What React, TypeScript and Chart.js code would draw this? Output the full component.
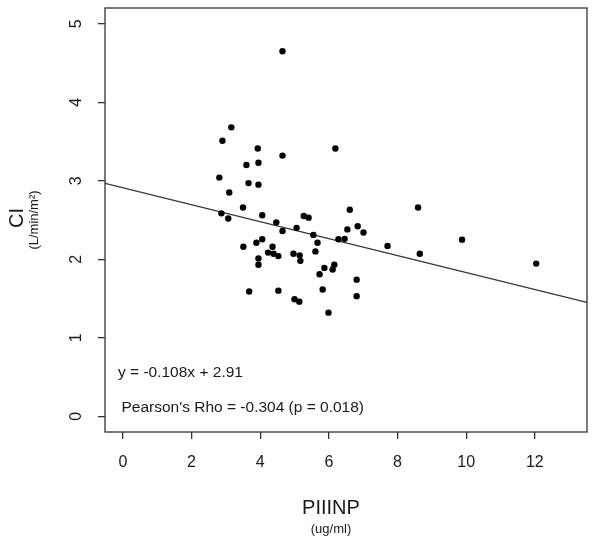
import React, { useEffect, useRef } from "react";
import { Chart, registerables } from "chart.js";

Chart.register(...registerables);

// PIIINP (ug/ml) values
const piiinp = [
  4.65, 3.16, 2.9, 3.93, 4.65, 3.6, 3.95, 2.81, 3.66, 3.95, 3.1, 6.19,
  3.5, 2.87, 3.07, 4.06, 4.47, 4.65, 5.27, 5.41, 5.06, 5.55, 6.61, 6.54,
  6.84, 7.01, 6.28, 6.46, 5.67, 5.61, 3.51, 3.89, 4.06, 4.36, 4.23, 4.39,
  4.53, 3.95, 3.95, 4.97, 5.15, 5.17, 6.16, 6.11, 5.87, 5.73, 6.81, 3.68,
  4.53, 5.82, 6.81, 5.0, 5.14, 5.99, 8.6, 7.71, 8.65, 9.88, 12.04,
];
// CI (L/min/m2) values
const ci = [
  4.65, 3.68, 3.51, 3.41, 3.32, 3.2, 3.23, 3.04, 2.97, 2.95, 2.85, 3.41,
  2.66, 2.585, 2.52, 2.56, 2.47, 2.36, 2.55, 2.53, 2.4, 2.31, 2.63, 2.38,
  2.42, 2.34, 2.255, 2.26, 2.21, 2.1, 2.16, 2.21, 2.255, 2.16, 2.085, 2.07,
  2.04, 2.01, 1.93, 2.07, 2.05, 1.98, 1.93, 1.87, 1.89, 1.81, 1.74, 1.59,
  1.6, 1.615, 1.53, 1.49, 1.46, 1.32, 2.66, 2.17, 2.07, 2.25, 1.945,
];

const xTicks = [0, 2, 4, 6, 8, 10, 12];
const yTicks = [0, 1, 2, 3, 4, 5];
const xRange = [-0.52, 13.52];
const yRange = [-0.2, 5.2];
const slope = -0.108;
const intercept = 2.91;

const xTitle = "PIIINP";
const xUnits = "(ug/ml)";
const yTitle = "CI";
const yUnits = "(L/min/m²)";
const eqText = "y = -0.108x + 2.91";
const rhoText = "Pearson's Rho = -0.304 (p = 0.018)";

const FONT = '"Liberation Sans", Arial, Helvetica, sans-serif';
const INK = "#1a1a1a";
const LINE = "#333333";

const overlay = {
  id: "overlay",
  afterDraw(chart: any) {
    const { ctx, chartArea: a, scales } = chart;
    const y = scales.y;
    ctx.save();
    // box
    ctx.strokeStyle = LINE;
    ctx.lineWidth = 1.3;
    ctx.strokeRect(a.left, a.top, a.right - a.left, a.bottom - a.top);

    ctx.fillStyle = INK;
    ctx.textAlign = "center";
    ctx.textBaseline = "middle";

    // y tick labels (rotated, R style)
    ctx.font = `16px ${FONT}`;
    yTicks.forEach((v) => {
      const py = y.getPixelForValue(v);
      ctx.save();
      ctx.translate(a.left - 28.5, py);
      ctx.rotate(-Math.PI / 2);
      ctx.fillText(String(v), 0, 0);
      ctx.restore();
    });

    // x axis title
    ctx.font = `20px ${FONT}`;
    ctx.fillText(xTitle, a.left + 226, a.bottom + 76);
    ctx.font = `13px ${FONT}`;
    ctx.fillText(xUnits, a.left + 226, a.bottom + 97);

    // y axis title
    const cy = (a.top + a.bottom) / 2;
    ctx.save();
    ctx.translate(a.left - 88, cy - 2);
    ctx.rotate(-Math.PI / 2);
    ctx.font = `20px ${FONT}`;
    ctx.fillText(yTitle, 0, 0);
    ctx.restore();
    ctx.save();
    ctx.translate(a.left - 71, cy);
    ctx.rotate(-Math.PI / 2);
    ctx.font = `13px ${FONT}`;
    ctx.fillText(yUnits, 0, 0);
    ctx.restore();

    // annotations
    ctx.textAlign = "left";
    ctx.font = `15.5px ${FONT}`;
    ctx.fillText(eqText, a.left + 13, y.getPixelForValue(0.55));
    ctx.fillText(rhoText, a.left + 16.5, y.getPixelForValue(0.11));
    ctx.restore();
  },
};

export default function App() {
  const ref = useRef<HTMLCanvasElement | null>(null);

  useEffect(() => {
    if (!ref.current) return;
    const points = piiinp.map((v, i) => ({ x: v, y: ci[i] }));
    const fit = xRange.map((v) => ({ x: v, y: intercept + slope * v }));

    const chart = new Chart(ref.current, {
      type: "scatter",
      data: {
        datasets: [
          {
            type: "line",
            data: fit,
            borderColor: LINE,
            borderWidth: 1.3,
            pointRadius: 0,
            fill: false,
            order: 2,
          } as any,
          {
            data: points,
            backgroundColor: "#000000",
            borderWidth: 0,
            pointRadius: 3.2,
            order: 1,
          },
        ],
      },
      options: {
        responsive: false,
        animation: false,
        devicePixelRatio: 1,
        layout: { padding: { top: 8, right: 13, left: 0, bottom: 0 } },
        plugins: {
          legend: { display: false },
          tooltip: { enabled: false },
        },
        scales: {
          x: {
            type: "linear",
            min: xRange[0],
            max: xRange[1],
            afterBuildTicks: (s: any) => {
              s.ticks = xTicks.map((value) => ({ value }));
            },
            afterFit: (s: any) => {
              s.height = 113;
            },
            border: { display: false },
            grid: {
              drawOnChartArea: false,
              drawTicks: true,
              tickLength: 7,
              color: LINE,
              lineWidth: 1.3,
            },
            ticks: {
              font: { size: 16, family: FONT },
              color: INK,
              padding: 14,
              maxRotation: 0,
              autoSkip: false,
            },
          },
          y: {
            type: "linear",
            min: yRange[0],
            max: yRange[1],
            afterBuildTicks: (s: any) => {
              s.ticks = yTicks.map((value) => ({ value }));
            },
            afterFit: (s: any) => {
              s.width = 105;
            },
            border: { display: false },
            grid: {
              drawOnChartArea: false,
              drawTicks: true,
              tickLength: 7,
              color: LINE,
              lineWidth: 1.3,
            },
            ticks: { display: false },
          },
        },
      },
      plugins: [overlay],
    });
    return () => chart.destroy();
  }, []);

  return (
    <div
      style={{
        position: "fixed",
        left: 0,
        top: 0,
        width: 600,
        height: 545,
        background: "#ffffff",
      }}
    >
      <canvas ref={ref} width={600} height={545} />
    </div>
  );
}
